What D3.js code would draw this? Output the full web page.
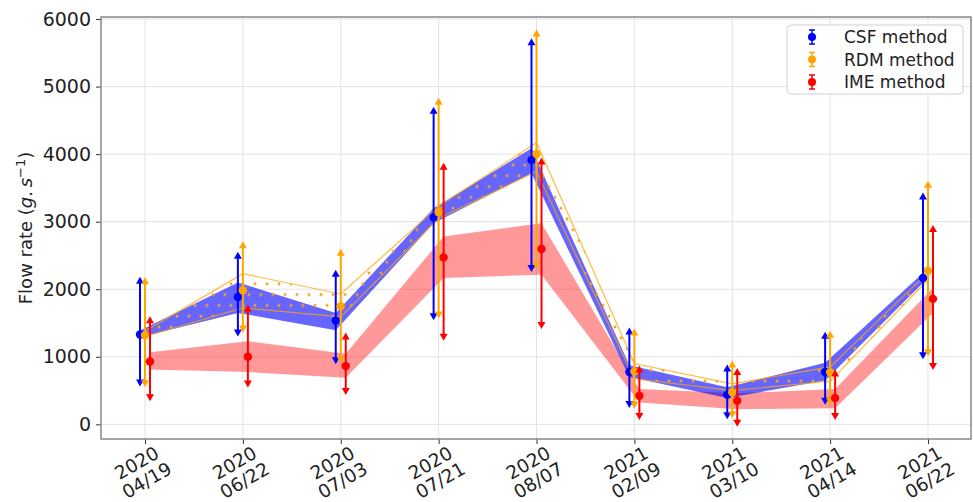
<!DOCTYPE html>
<html>
<head>
<meta charset="utf-8">
<script src="https://cdn.jsdelivr.net/npm/d3@7"></script>
<style>
body { margin: 0; background: #fff; }
svg { font-family: "DejaVu Sans", sans-serif; }
</style>
</head>
<body>
<svg id="chart" width="973" height="502"></svg>
<script>
// campaign dates (x categories)
var years = ["2020", "2020", "2020", "2020", "2020", "2021", "2021", "2021", "2021"];
var days = ["04/19", "06/22", "07/03", "07/21", "08/07", "02/09", "03/10", "04/14", "06/22"];
var dates = years.map((y, i) => y + " " + days[i]);

// CSF method: point, error bar, band
var csfVal = [1330, 1886, 1536, 3067, 3914, 775, 438, 775, 2167];
var csfLow = [620, 1359, 950, 1600, 2314, 300, 133, 349, 1024];
var csfHigh = [2127, 2496, 2230, 4643, 5657, 1375, 827, 1310, 3372];
var csfBandLow = [1290, 1650, 1393, 2978, 3718, 700, 390, 650, 2093];
var csfBandHigh = [1390, 2100, 1650, 3200, 4087, 875, 550, 910, 2240];

// RDM method
var rdmVal = [1320, 1984, 1748, 3141, 4003, 784, 474, 770, 2275];
var rdmLow = [610, 1418, 960, 1625, 2353, 295, 148, 345, 1068];
var rdmHigh = [2120, 2650, 2540, 4776, 5786, 1360, 886, 1325, 3545];
var rdmBandLow = [1300, 1724, 1590, 3050, 3742, 675, 500, 640, 2140];
var rdmBandHigh = [1380, 2230, 1930, 3230, 4170, 900, 600, 850, 2250];

// IME method
var imeVal = [930, 1000, 862, 2471, 2595, 424, 349, 390, 1857];
var imeLow = [400, 605, 492, 1296, 1470, 125, 24, 124, 862];
var imeHigh = [1540, 1713, 1300, 3815, 3890, 810, 775, 753, 2890];
var imeBandLow = [812, 773, 690, 2166, 2216, 325, 225, 240, 1650];
var imeBandHigh = [1068, 1230, 1044, 2781, 2978, 525, 460, 525, 2019];

var yTicks = [0, 1000, 2000, 3000, 4000, 5000, 6000];

var svg = d3.select("svg#chart");

var pLeft = 101, pRight = 971, pTop = 17, pBottom = 439;

var x = d3.scalePoint()
.domain(dates)
.range([145, 928]);

var y = d3.scaleLinear()
.domain([-217, 6030])
.range([pBottom, pTop]);

var series = [
    {name: "CSF method", color: "blue", off: -5, val: csfVal, low: csfLow, high: csfHigh},
    {name: "RDM method", color: "orange", off: 0, val: rdmVal, low: rdmLow, high: rdmHigh},
    {name: "IME method", color: "red", off: 5, val: imeVal, low: imeLow, high: imeHigh}
];

var defs = svg.append("defs");
defs.append("clipPath").attr("id", "plotclip")
.append("rect").attr("x", pLeft).attr("y", pTop).attr("width", pRight - pLeft).attr("height", pBottom - pTop);

// dotted hatch for the RDM band
var pat = defs.append("pattern")
.attr("id", "dots")
.attr("patternUnits", "userSpaceOnUse")
.attr("width", 12).attr("height", 21.6);
pat.append("circle").attr("cx", 3).attr("cy", 3).attr("r", 1.5).attr("fill", "#f0a020");
pat.append("circle").attr("cx", 9).attr("cy", 13.8).attr("r", 1.5).attr("fill", "#f0a020");

// grid
var grid = svg.append("g").attr("class", "grid");
grid.selectAll("line.gy")
.data(yTicks)
.enter().append("line")
.attr("x1", pLeft).attr("x2", pRight)
.attr("y1", d => y(d)).attr("y2", d => y(d))
.attr("stroke", "#e3e3e3").attr("stroke-width", 1);
grid.selectAll("line.gx")
.data(dates)
.enter().append("line")
.attr("y1", pTop).attr("y2", pBottom)
.attr("x1", d => x(d)).attr("x2", d => x(d))
.attr("stroke", "#e3e3e3").attr("stroke-width", 1);

var plot = svg.append("g").attr("clip-path", "url(#plotclip)");

function band(lo, hi, off) {
    return d3.area()
    .x((d, i) => x(dates[i]) + off)
    .y0((d, i) => y(lo[i]))
    .y1((d, i) => y(hi[i]))(dates);
}
function edge(vals, off) {
    return d3.line()
    .x((d, i) => x(dates[i]) + off)
    .y((d, i) => y(vals[i]))(dates);
}

// IME band
plot.append("path")
.attr("d", band(imeBandLow, imeBandHigh, 5))
.attr("fill", "red").attr("fill-opacity", 0.4);

// CSF band
plot.append("path")
.attr("d", band(csfBandLow, csfBandHigh, -5))
.attr("fill", "blue").attr("fill-opacity", 0.6);

// RDM band: dotted hatch with thin edges
plot.append("path")
.attr("d", band(rdmBandLow, rdmBandHigh, 0))
.attr("fill", "url(#dots)");
[rdmBandLow, rdmBandHigh].forEach(v => {
    plot.append("path")
    .attr("d", edge(v, 0))
    .attr("fill", "none")
    .attr("stroke", "orange").attr("stroke-opacity", 0.75).attr("stroke-width", 1.2);
});

// error bars with arrow caps
series.forEach(s => {
    var g = plot.append("g");
    dates.forEach((d, i) => {
        var cx = x(d) + s.off;
        var yt = y(s.high[i]), yb = y(s.low[i]);
        g.append("line")
        .attr("x1", cx).attr("x2", cx)
        .attr("y1", yt).attr("y2", yb)
        .attr("stroke", s.color).attr("stroke-width", 2);
        g.append("path")
        .attr("d", `M${cx},${yt - 4}L${cx + 4},${yt + 3}L${cx - 4},${yt + 3}Z`)
        .attr("fill", s.color);
        g.append("path")
        .attr("d", `M${cx},${yb + 4}L${cx + 4},${yb - 3}L${cx - 4},${yb - 3}Z`)
        .attr("fill", s.color);
        g.append("circle")
        .attr("cx", cx).attr("cy", y(s.val[i]))
        .attr("r", 4.2)
        .attr("fill", s.color);
    });
});

// axes
var yAxis = svg.append("g")
.attr("transform", `translate(${pLeft},0)`)
.call(d3.axisLeft(y).tickValues(yTicks).tickSize(5).tickPadding(5).tickFormat(d3.format("d")));
yAxis.select(".domain").remove();
yAxis.selectAll(".tick line").attr("stroke", "#333");
yAxis.selectAll("text").attr("font-size", 19).attr("fill", "#222").attr("font-family", "DejaVu Sans");

var xAxis = svg.append("g")
.attr("transform", `translate(0,${pBottom})`)
.call(d3.axisBottom(x).tickSize(5).tickFormat(""));
xAxis.select(".domain").remove();
xAxis.selectAll(".tick line").attr("stroke", "#333");

var xl = svg.append("g");
dates.forEach((d, i) => {
    var t = xl.append("text")
    .attr("transform", `translate(${x(d) - 3},${472}) rotate(-30)`)
    .attr("text-anchor", "middle")
    .attr("font-size", 18.5)
    .attr("fill", "#222");
    t.append("tspan").attr("x", 0).attr("y", -4).text(years[i]);
    t.append("tspan").attr("x", 0).attr("y", 16).text(days[i]);
});

// frame
svg.append("rect")
.attr("x", pLeft).attr("y", pTop)
.attr("width", pRight - pLeft).attr("height", pBottom - pTop)
.attr("fill", "none").attr("stroke", "#888").attr("stroke-width", 1.5);

// y label
var yl = svg.append("text")
.attr("transform", `translate(32,${(pTop + pBottom) / 2}) rotate(-90)`)
.attr("text-anchor", "middle")
.attr("font-size", 18)
.attr("fill", "#222");
yl.append("tspan").text("Flow rate (");
yl.append("tspan").attr("font-style", "italic").text("g");
yl.append("tspan").text(".\u2009");
yl.append("tspan").attr("font-style", "italic").text("s");
yl.append("tspan").attr("font-size", 13).attr("dy", -7).text("\u22121");
yl.append("tspan").attr("dy", 7).text(")");

// legend
var lg = svg.append("g").attr("transform", "translate(787,25)");
lg.append("rect")
.attr("width", 176).attr("height", 69).attr("rx", 4)
.attr("fill", "white").attr("fill-opacity", 0.85)
.attr("stroke", "#d0d0d0");
series.forEach((s, i) => {
    var row = lg.append("g").attr("transform", `translate(25,${12 + i * 22.5})`);
    row.append("line").attr("y1", -7).attr("y2", 7).attr("stroke", s.color).attr("stroke-width", 1.5);
    row.append("line").attr("x1", -3).attr("x2", 3).attr("y1", -7).attr("y2", -7).attr("stroke", s.color).attr("stroke-width", 1.5);
    row.append("line").attr("x1", -3).attr("x2", 3).attr("y1", 7).attr("y2", 7).attr("stroke", s.color).attr("stroke-width", 1.5);
    row.append("circle").attr("r", 4).attr("fill", s.color);
    row.append("text")
    .attr("x", 32).attr("y", 6)
    .attr("font-size", 17).attr("fill", "#222")
    .text(s.name);
});
</script>
</body>
</html>
